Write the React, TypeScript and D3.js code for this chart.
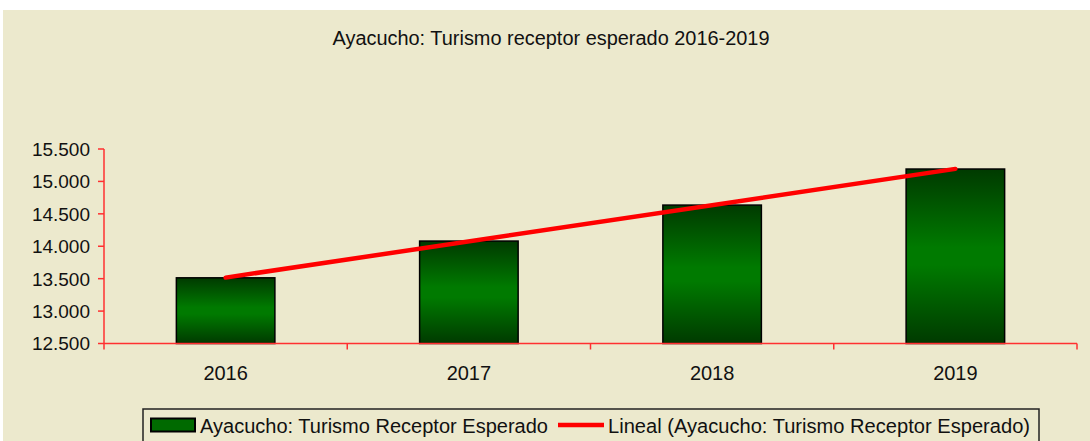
import React from "react";
import * as d3 from "d3";

const categories = ["2016", "2017", "2018", "2019"];
const values = [13513, 14080, 14635, 15191];
const yTicks = [12500, 13000, 13500, 14000, 14500, 15000, 15500];
const title = "Ayacucho: Turismo receptor esperado 2016-2019";
const seriesName = "Ayacucho: Turismo Receptor Esperado";
const trendName = "Lineal (Ayacucho: Turismo Receptor Esperado)";

const W = 1090;
const H = 441;
const left = 104;
const right = 1077;
const top = 149;
const bottom = 343.5;

export default function App() {
  const x = d3.scaleBand<string>().domain(categories).range([left, right]).paddingInner(0.595).paddingOuter(0.2975);
  const xb = d3.scaleBand<string>().domain(categories).range([left, right]);
  const y = d3.scaleLinear().domain([12500, 15500]).range([bottom, top]);
  const fmt = (v: number) => d3.format(",.3f")(v / 1000).replace(",", "");

  // linear trend (least squares) over category index
  const idx = values.map((_, i) => i + 1);
  const mx = d3.mean(idx)!;
  const my = d3.mean(values)!;
  const slope = d3.sum(idx.map((v, i) => (v - mx) * (values[i] - my))) / d3.sum(idx.map((v) => (v - mx) ** 2));
  const icpt = my - slope * mx;
  const trend = categories.map((c, i) => [xb(c)! + xb.bandwidth() / 2, y(icpt + slope * (i + 1))] as [number, number]);
  const line = d3.line();

  const font = "'Liberation Sans', Arial, sans-serif";

  return (
    <svg width={W} height={H} style={{ position: "absolute", left: 0, top: 0 }} fontFamily={font}>
      <defs>
        <linearGradient id="barGrad" x1="0" y1="0" x2="0" y2="1">
          <stop offset="0" stopColor="#003a00" />
          <stop offset="0.45" stopColor="#007a00" />
          <stop offset="0.55" stopColor="#007a00" />
          <stop offset="1" stopColor="#003a00" />
        </linearGradient>
      </defs>
      <rect x={0} y={0} width={W} height={H} fill="#ffffff" />
      <rect x={3} y={10} width={W - 3} height={H - 10} fill="#ece9cd" />
      <text x={551} y={45} textAnchor="middle" fontSize={20} fill="#111" textLength={437} lengthAdjust="spacingAndGlyphs">
        {title}
      </text>

      {/* bars */}
      {categories.map((c, i) => (
        <rect
          key={c}
          x={x(c)!}
          y={y(values[i])}
          width={x.bandwidth()}
          height={y(12500) - y(values[i])}
          fill="url(#barGrad)"
          stroke="#000"
          strokeWidth={1.5}
        />
      ))}

      {/* y axis */}
      <line x1={left} x2={left} y1={top} y2={bottom} stroke="#ff3030" strokeWidth={1.5} />
      {yTicks.map((t) => (
        <g key={t}>
          <line x1={left - 6} x2={left} y1={y(t)} y2={y(t)} stroke="#ff3030" strokeWidth={1.5} />
          <text x={90} y={y(t)} dy="0.36em" textAnchor="end" fontSize={19} fill="#111">
            {fmt(t)}
          </text>
        </g>
      ))}

      {/* x axis */}
      <line x1={left} x2={right} y1={bottom} y2={bottom} stroke="#ff3030" strokeWidth={1.5} />
      {[...categories.map((c) => xb(c)!), right].map((px, i) => (
        <line key={i} x1={px} x2={px} y1={bottom} y2={bottom + 6} stroke="#ff3030" strokeWidth={1.5} />
      ))}
      {categories.map((c) => (
        <text key={c} x={xb(c)! + xb.bandwidth() / 2} y={380} textAnchor="middle" fontSize={20} fill="#111">
          {c}
        </text>
      ))}

      {/* trend line */}
      <path d={line([trend[0], trend[trend.length - 1]])!} stroke="#ff0000" strokeWidth={4.5} fill="none" strokeLinecap="round" />

      {/* legend */}
      <rect x={143} y={409} width={896} height={50} fill="none" stroke="#222" strokeWidth={1.5} />
      <rect x={151} y={418.5} width={44} height={13} fill="#006a00" stroke="#000" strokeWidth={2} />
      <text x={200} y={433} fontSize={20} fill="#111" textLength={348} lengthAdjust="spacingAndGlyphs">
        {seriesName}
      </text>
      <line x1={558} x2={604} y1={425} y2={425} stroke="#ff0000" strokeWidth={4.5} />
      <text x={608} y={433} fontSize={20} fill="#111" textLength={422} lengthAdjust="spacingAndGlyphs">
        {trendName}
      </text>
    </svg>
  );
}
